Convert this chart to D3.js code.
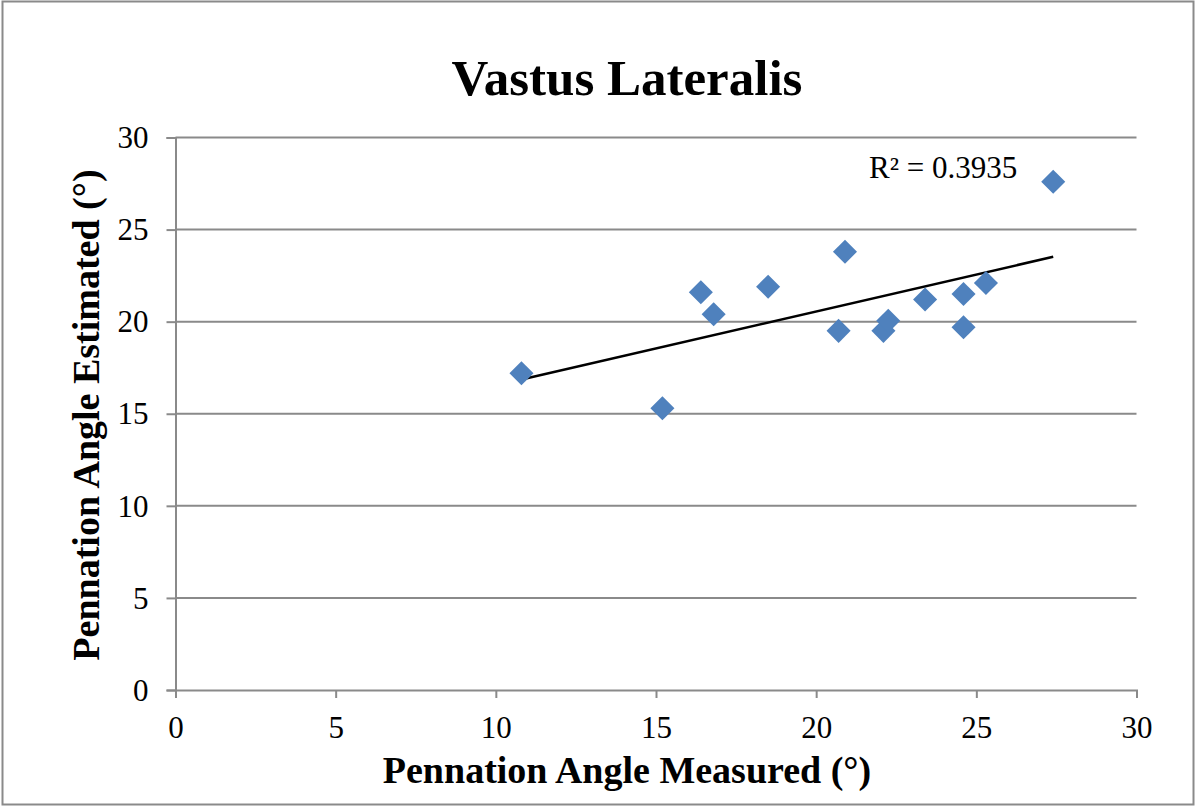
<!DOCTYPE html>
<html><head><meta charset="utf-8">
<script src="https://cdn.jsdelivr.net/npm/d3@7"></script>
<style>html,body{margin:0;padding:0;background:#fff}svg{display:block}</style>
</head><body>
<script>
const title = "Vastus Lateralis";
const xLabel = "Pennation Angle Measured (°)";
const yLabel = "Pennation Angle Estimated (°)";
const r2Label = "R² = 0.3935";
const measured  = [10.8, 15.2, 16.4, 16.8, 18.5, 20.9, 20.7, 22.1, 22.25, 23.4, 24.6, 24.6, 25.3, 27.4];
const estimated = [17.2, 15.3, 21.6, 20.4, 21.9, 23.8, 19.5, 19.5, 20.05, 21.2, 21.5, 19.7, 22.1, 27.6];
const xTicks = [0, 5, 10, 15, 20, 25, 30];
const yTicks = [0, 5, 10, 15, 20, 25, 30];

const W = 1200, H = 810;
const svg = d3.select("body").append("svg").attr("width", W).attr("height", H);
const font = "'Liberation Serif','Times New Roman',serif";
const grey = "#8a8a8a";

svg.append("rect").attr("x", 2.5).attr("y", 1.5).attr("width", 1191).attr("height", 803)
  .attr("fill", "#fff").attr("stroke", grey).attr("stroke-width", 2);

const x = d3.scaleLinear().domain([0, 30]).range([175.5, 1136.5]);
const y = d3.scaleLinear().domain([0, 30]).range([690, 137.5]);

// gridlines
svg.append("g").selectAll("line").data(yTicks.filter(d => d > 0)).join("line")
  .attr("x1", x(0)).attr("x2", x(30)).attr("y1", d => y(d)).attr("y2", d => y(d))
  .attr("stroke", grey).attr("stroke-width", 2);

// x axis
const xAxis = svg.append("g").attr("transform", `translate(0,${y(0)})`)
  .call(d3.axisBottom(x).tickValues(xTicks).tickSize(8).tickPadding(20).tickFormat(d3.format("d")));
xAxis.select(".domain").attr("stroke", grey).attr("stroke-width", 2);
xAxis.selectAll(".tick line").attr("stroke", grey).attr("stroke-width", 2);
xAxis.selectAll("text").attr("font-family", font).attr("font-size", 31).attr("fill", "#000")
  .attr("dy", null).attr("y", 48);

// y axis
const yAxis = svg.append("g").attr("transform", `translate(${x(0)},0)`)
  .call(d3.axisLeft(y).tickValues(yTicks).tickSize(9).tickPadding(18).tickFormat(d3.format("d")));
yAxis.select(".domain").attr("stroke", grey).attr("stroke-width", 2);
yAxis.selectAll(".tick line").attr("stroke", grey).attr("stroke-width", 2);
yAxis.selectAll("text").attr("font-family", font).attr("font-size", 31).attr("fill", "#000")
  .attr("dy", "0.33em").attr("x", -27);

// trendline (least squares)
const pts = measured.map((m, i) => [m, estimated[i]]);
const mx = d3.mean(measured), my = d3.mean(estimated);
const slope = d3.sum(pts, p => (p[0]-mx)*(p[1]-my)) / d3.sum(pts, p => (p[0]-mx)**2);
const icpt = my - slope*mx;
const xr = d3.extent(measured);
svg.append("line")
  .attr("x1", x(xr[0])).attr("y1", y(icpt + slope*xr[0]))
  .attr("x2", x(xr[1])).attr("y2", y(icpt + slope*xr[1]))
  .attr("stroke", "#000").attr("stroke-width", 2.5);

// points
const sym = d3.symbol().type(d3.symbolSquare).size(290);
svg.append("g").selectAll("path").data(pts).join("path")
  .attr("d", sym)
  .attr("transform", d => `translate(${x(d[0])},${y(d[1])}) rotate(45)`)
  .attr("fill", "#4f81bd");

// texts
svg.append("text").attr("x", 627).attr("y", 95).attr("text-anchor", "middle")
  .attr("font-family", font).attr("font-weight", "bold").attr("font-size", 51).text(title);
svg.append("text").attr("x", 627).attr("y", 783).attr("text-anchor", "middle")
  .attr("font-family", font).attr("font-weight", "bold").attr("font-size", 38).text(xLabel);
svg.append("text").attr("transform", "translate(99,415) rotate(-90)").attr("text-anchor", "middle")
  .attr("font-family", font).attr("font-weight", "bold").attr("font-size", 38).text(yLabel);
svg.append("text").attr("x", 869).attr("y", 178)
  .attr("font-family", font).attr("font-size", 31).text(r2Label);
</script>
</body></html>
